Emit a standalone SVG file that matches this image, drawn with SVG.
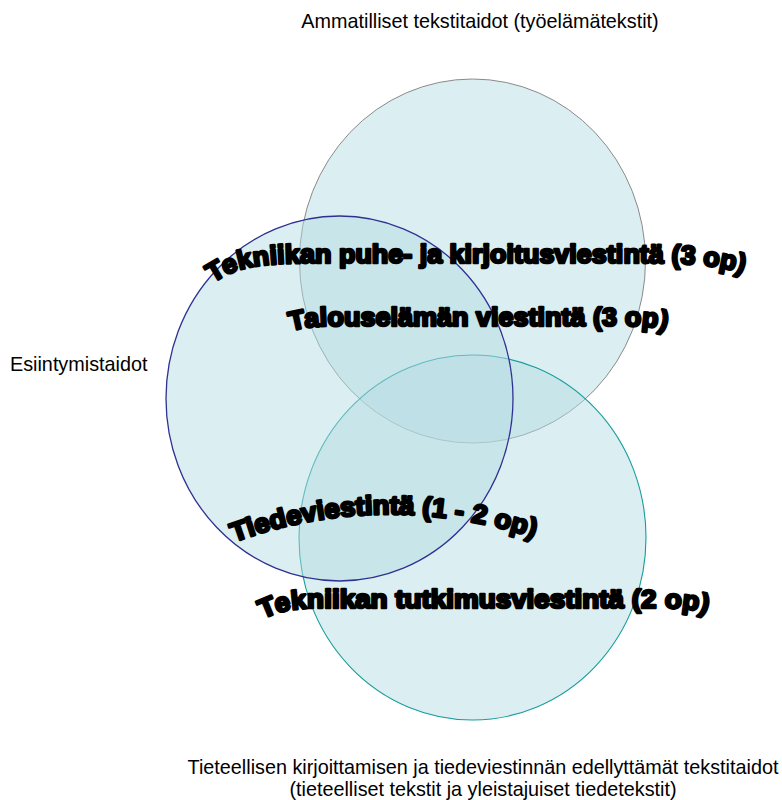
<svg xmlns="http://www.w3.org/2000/svg" width="782" height="800" viewBox="0 0 782 800">
  <style>
    .set { fill: #b4dce1; fill-opacity: 0.48; }
    .label { font-family: "Liberation Sans", Arial, sans-serif; font-size: 19.8px; fill: #000; }
    .course { font-family: "Liberation Sans", Arial, sans-serif; font-size: 26.5px; font-weight: 700; fill: #000; stroke: #000; stroke-width: 2.6; stroke-linejoin: round; }
  </style>
  <defs>
    <path id="arc-tpk" d="M213,283 C241,263 275,263 325,263 L620,263 C680,263 722,263 756,278"/>
    <path id="arc-tal" d="M291,331 Q306,326 336,326 L630,326 Q660,326 674,333"/>
    <path id="arc-tied" d="M234,542 Q386,487 544,541"/>
    <path id="arc-ttv" d="M263,619 Q283,608 318,608 L660,608 Q700,608 716,617"/>
  </defs>

  <!-- set circles -->
  <g id="set-ammatilliset">
    <ellipse class="set" cx="472.5" cy="261" rx="173" ry="182" stroke="#8a8a8a" stroke-width="1"/>
  </g>
  <g id="set-tieteellinen">
    <ellipse class="set" cx="472.5" cy="537.5" rx="173.5" ry="182.5" stroke="#179c9c" stroke-width="1.1"/>
  </g>
  <g id="set-esiintyminen">
    <ellipse class="set" cx="339.5" cy="398.5" rx="173.5" ry="182.5" stroke="#2e3192" stroke-width="1.3"/>
  </g>

  <g id="connectors"></g>

  <!-- set names -->
  <g id="label-ammatilliset">
    <text class="label" x="480" y="28" text-anchor="middle">Ammatilliset tekstitaidot (työelämätekstit)</text>
  </g>
  <g id="label-esiintyminen">
    <text class="label" x="10" y="371">Esiintymistaidot</text>
  </g>
  <g id="label-tieteellinen">
    <text class="label" x="483" y="774" text-anchor="middle">Tieteellisen kirjoittamisen ja tiedeviestinnän edellyttämät tekstitaidot</text>
    <text class="label" x="483" y="796" text-anchor="middle">(tieteelliset tekstit ja yleistajuiset tiedetekstit)</text>
  </g>

  <!-- courses placed in the overlaps -->
  <g id="course-puhe-kirjoitus">
    <text class="course"><textPath href="#arc-tpk" textLength="535" lengthAdjust="spacingAndGlyphs">Tekniikan puhe- ja kirjoitusviestintä (3 op)</textPath></text>
  </g>
  <g id="course-talous">
    <text class="course"><textPath href="#arc-tal" textLength="376" lengthAdjust="spacingAndGlyphs">Talouselämän viestintä (3 op)</textPath></text>
  </g>
  <g id="course-tiede">
    <text class="course"><textPath href="#arc-tied" textLength="306" lengthAdjust="spacingAndGlyphs">Tiedeviestintä (1 - 2 op)</textPath></text>
  </g>
  <g id="course-tutkimus">
    <text class="course"><textPath href="#arc-ttv" textLength="446" lengthAdjust="spacingAndGlyphs">Tekniikan tutkimusviestintä (2 op)</textPath></text>
  </g>
</svg>
